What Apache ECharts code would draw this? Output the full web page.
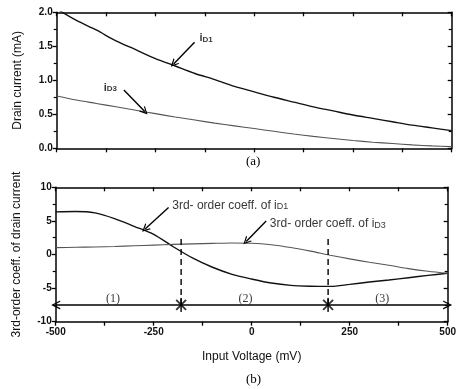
<!DOCTYPE html>
<html><head><meta charset="utf-8">
<script src="https://cdn.jsdelivr.net/npm/echarts/dist/echarts.min.js"></script>
<style>html,body{margin:0;padding:0;background:#fff}#c{width:459px;height:389px}</style>
</head><body><div id="c"></div>
<script>
// ---- data ----
const voltage = [-500,-450,-400,-350,-300,-250,-200,-150,-100,-50,0,50,100,150,200,250,300,350,400,450,500];
const iD1 = [2.05,1.88,1.74,1.58,1.45,1.32,1.21,1.10,1.01,0.91,0.83,0.75,0.68,0.61,0.55,0.49,0.44,0.39,0.34,0.30,0.26];
const iD3 = [0.77,0.71,0.66,0.61,0.56,0.51,0.46,0.415,0.37,0.33,0.29,0.25,0.21,0.175,0.145,0.115,0.09,0.07,0.05,0.035,0.025];
const coefD1 = [6.35,6.4,6.2,5.35,4.2,3.0,1.15,-0.55,-1.9,-2.95,-3.65,-4.25,-4.6,-4.72,-4.75,-4.45,-4.1,-3.8,-3.45,-3.1,-2.8];
const coefD3 = [1.02,1.07,1.12,1.2,1.3,1.4,1.5,1.58,1.66,1.72,1.68,1.45,1.03,0.5,-0.1,-0.65,-1.15,-1.6,-2.1,-2.5,-2.8];
const boundaryX = [-180, 195];
const boundaryTopY = 2.4;
const regionLineY = -7.5;
const regionNames = ['(1)', '(2)', '(3)'];
const regionNameX = [-354, -16, 333];
const regionNameY = -6.6;
const xTicks = [-500, -250, 0, 250, 500];
const topYTicks = [0, 0.5, 1.0, 1.5, 2.0];
const botYTicks = [-10, -5, 0, 5, 10];
const panelLabels = ['(a)', '(b)'];

const pair = (xs, ys) => xs.map((x, i) => [x, ys[i]]);
const SANS = 'Liberation Sans, Arial, sans-serif';
const SERIF = 'Liberation Serif, Times New Roman, serif';
const CHEVRON = 'path://M0,10 L5,0 L10,10 L8.4,10 L5,3.2 L1.6,10 Z';

function xAx(grid, pos, showLabel) {
  return {
    type: 'value', gridIndex: grid, position: pos,
    min: xTicks[0], max: xTicks[xTicks.length - 1], interval: xTicks[1] - xTicks[0],
    axisLine: { show: true, onZero: false, lineStyle: { color: '#000', width: 1.5 } },
    axisTick: { show: true, inside: pos === 'top', length: 4, lineStyle: { color: '#000', width: 1.3 } },
    minorTick: { show: true, splitNumber: 2, length: 4, lineStyle: { color: '#000', width: 1.3 } },
    axisLabel: { show: showLabel, color: '#111', fontFamily: SANS, fontWeight: 'bold', fontSize: 10, margin: 6 },
    splitLine: { show: false }
  };
}
function yAx(grid, pos, ticks, fmt) {
  return {
    type: 'value', gridIndex: grid, position: pos,
    min: ticks[0], max: ticks[ticks.length - 1], interval: ticks[1] - ticks[0],
    axisLine: { show: true, onZero: false, lineStyle: { color: '#000', width: 1.5 } },
    axisTick: { show: true, inside: pos === 'right', length: 4, lineStyle: { color: '#000', width: 1.3 } },
    minorTick: { show: true, splitNumber: 2, length: 3, lineStyle: { color: '#000', width: 1.2 } },
    axisLabel: { show: pos === 'left', color: '#111', fontFamily: SANS, fontWeight: 'bold', fontSize: 10, margin: 4, formatter: fmt },
    splitLine: { show: false }
  };
}

const xAxes = [xAx(0, 'bottom', false), xAx(0, 'top', false), xAx(1, 'bottom', true), xAx(1, 'top', false)];
xAxes[2].name = 'Input Voltage (mV)';
xAxes[2].nameLocation = 'middle';
xAxes[2].nameGap = 29;
xAxes[2].nameTextStyle = { fontFamily: SANS, fontSize: 12, color: '#111' };

const yAxes = [
  yAx(0, 'left', topYTicks, v => v.toFixed(1)),
  yAx(0, 'right', topYTicks),
  yAx(1, 'left', botYTicks, v => String(v)),
  yAx(1, 'right', botYTicks)
];
yAxes[0].name = 'Drain current (mA)';
yAxes[0].nameLocation = 'middle';
yAxes[0].nameGap = 33;
yAxes[0].nameTextStyle = { fontFamily: SANS, fontSize: 12, color: '#111' };
yAxes[2].name = '3rd-order coeff. of drain current';
yAxes[2].nameLocation = 'middle';
yAxes[2].nameGap = 33;
yAxes[2].nameTextStyle = { fontFamily: SANS, fontSize: 12, color: '#111' };

const arrowLine = (coords) => ({
  silent: true, symbol: ['none', CHEVRON], symbolSize: [8, 8],
  label: { show: false },
  lineStyle: { color: '#000', width: 1.4, type: 'solid' },
  itemStyle: { color: '#000' },
  data: coords.map(c => [{ coord: c[0] }, { coord: c[1] }])
});

const textSeries = (xi, yi, items) => ({
  type: 'scatter', xAxisIndex: xi, yAxisIndex: yi, silent: true,
  symbolSize: 1, itemStyle: { color: 'rgba(0,0,0,0)' },
  data: items.map(t => ({
    value: [t.x, t.y],
    label: {
      show: true, position: t.pos, distance: 0, formatter: t.text,
      fontFamily: t.font || SANS, fontSize: t.size || 12, fontWeight: t.weight || 'normal', color: '#000',
      rich: { s: { fontFamily: t.font || SANS, fontSize: (t.size || 12) - 3, fontWeight: t.weight || 'normal', color: '#000', padding: [3, 0, 0, 0] } }
    }
  }))
});

const curve = (xi, yi, ys, color, width, ml) => ({
  type: 'line', xAxisIndex: xi, yAxisIndex: yi, data: pair(voltage, ys),
  smooth: 0.3, symbol: 'none', clip: true,
  lineStyle: { color: color, width: width }, markLine: ml
});

const option = {
  animation: false,
  backgroundColor: '#fff',
  grid: [
    { left: 56.7, right: 7.3, top: 12.3, height: 136 },
    { left: 55.7, right: 7.3, top: 187.3, height: 134.4 }
  ],
  xAxis: xAxes,
  yAxis: yAxes,
  series: [
    curve(0, 0, iD1, '#111', 1.4, arrowLine([[[-151, 1.56], [-204, 1.24]]])),
    curve(0, 0, iD3, '#555', 1.1, arrowLine([[[-330, 0.857], [-277, 0.54]]])),
    textSeries(0, 0, [
      { x: -140, y: 1.62, pos: 'right', text: 'i{s|D1}', size: 11, weight: 'bold' },
      { x: -346, y: 0.89, pos: 'left', text: 'i{s|D3}', size: 11, weight: 'bold' }
    ]),
    curve(2, 2, coefD1, '#111', 1.4, arrowLine([[[-212, 7.0], [-272, 3.8]]])),
    curve(2, 2, coefD3, '#555', 1.1, arrowLine([[[37, 5.0], [-14, 1.95]]])),
    // boundaries
    ...boundaryX.map(bx => ({
      type: 'line', xAxisIndex: 2, yAxisIndex: 2, symbol: 'none', silent: true,
      data: [[bx, regionLineY], [bx, boundaryTopY]],
      lineStyle: { color: '#000', width: 1.4, type: [6, 4] }
    })),
    // region line with arrows
    { type: 'line', xAxisIndex: 2, yAxisIndex: 2, symbol: 'none', silent: true, data: [],
      markLine: {
        silent: true, symbol: [CHEVRON, CHEVRON], symbolSize: [9, 9], label: { show: false },
        lineStyle: { color: '#000', width: 1.6, type: 'solid' },
        itemStyle: { color: '#000' },
        data: [[{ coord: [xTicks[0], regionLineY] }, { coord: [xTicks[xTicks.length - 1], regionLineY] }]]
      } },
    // star markers (vertical + X)
    ...[0, 45, -45].map(rot => ({
      type: 'scatter', xAxisIndex: 2, yAxisIndex: 2, silent: true,
      symbol: 'rect', symbolSize: [1.8, 14], symbolRotate: rot,
      itemStyle: { color: '#000' },
      data: boundaryX.map(bx => [bx, regionLineY])
    })),
    textSeries(2, 2, [
      { x: -204, y: 7.3, pos: 'right', text: '3rd- order coeff. of i{s|D1}', size: 12 },
      { x: 45, y: 4.6, pos: 'right', text: '3rd- order coeff. of i{s|D3}', size: 12 },
      ...regionNames.map((n, i) => ({ x: regionNameX[i], y: regionNameY, pos: 'inside', text: n, size: 12, font: SERIF }))
    ])
  ],
  graphic: [
    { type: 'text', left: 246, top: 155, style: { text: panelLabels[0], font: '13px ' + SERIF, fill: '#000' } },
    { type: 'text', left: 246, top: 373, style: { text: panelLabels[1], font: '13px ' + SERIF, fill: '#000' } }
  ]
};
echarts.init(document.getElementById('c'), null, { renderer: 'canvas' }).setOption(option);
</script>
</body></html>
